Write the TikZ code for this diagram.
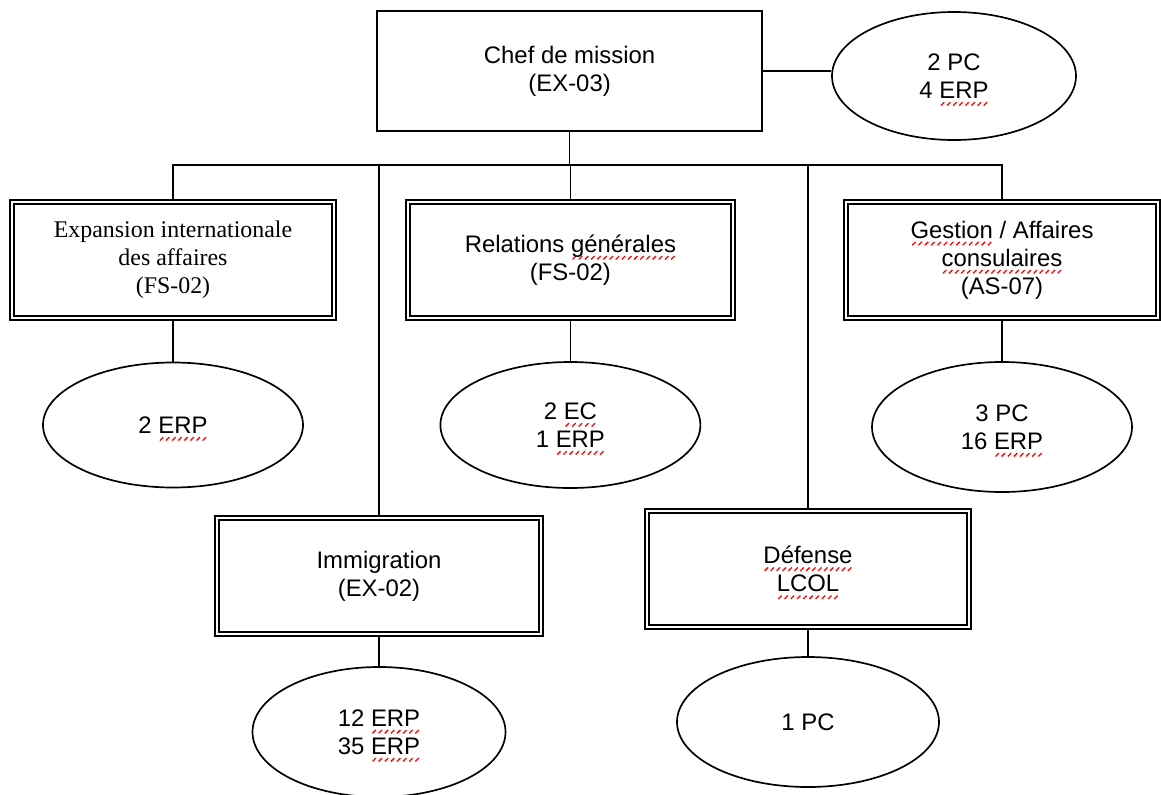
\documentclass[tikz,border=0pt]{standalone}
\usepackage{fontspec}
\setmainfont{Liberation Sans}
\newfontfamily\serifbox{Liberation Serif}
\usetikzlibrary{positioning,shapes.geometric}

% red wavy spell-check mark under a word
\newsavebox\spellbox
\newcommand\spell[1]{\sbox\spellbox{#1}\leavevmode\rlap{\smash{\raisebox{-4.8pt}{\color{red}\hbox to \wd\spellbox{\xleaders\hbox to 4.2pt{\hss\rotatebox{-45}{\rule{0.9pt}{3.4pt}}\hss}\hfill}}}}\usebox\spellbox}

\begin{document}
\begin{tikzpicture}[
    box/.style={draw, double, double distance=1.4pt, line width=1.2pt, minimum height=2.9cm, align=center, font=\fontsize{17}{20}\selectfont},
    staff/.style={draw, ellipse, line width=1.2pt, inner sep=0pt, align=center, font=\fontsize{17}{20}\selectfont},
    link/.style={line width=1.2pt},
]
\path[use as bounding box, fill=white] (0,0) rectangle (29.025,-19.85);

% Row 1: Head of mission
\node[draw, line width=1.2pt, minimum width=9.625cm, minimum height=3cm, align=center, font=\fontsize{17}{20}\selectfont] (chef) at (14.24,-1.775) {Chef de mission\\(EX-03)};
\node[staff, minimum width=6.1cm, minimum height=3.2cm] (chefstaff) at (23.85,-1.9) {2 PC\\4 \spell{ERP}};

% Row 2: Three programs
\node[box, minimum width=8.05cm, font=\serifbox\fontsize{17}{20}\selectfont] (expansion) at (4.325,-6.5) {Expansion internationale\\des affaires\\(FS-02)};
\node[box, minimum width=8.125cm] (relations) at (14.26,-6.5) {Relations \spell{générales}\\(FS-02)};
\node[box, minimum width=7.8cm] (gestion) at (25.05,-6.5) {\spell{Gestion} / Affaires\\\spell{consulaires}\\(AS-07)};

\node[staff, minimum width=6.5cm, minimum height=3.125cm] (expstaff) at (4.325,-10.625) {2 \spell{ERP}};
\node[staff, minimum width=6.5cm, minimum height=3.15cm] (relstaff) at (14.26,-10.625) {2 \spell{EC}\\1 \spell{ERP}};
\node[staff, minimum width=6.5cm, minimum height=3.25cm] (gesstaff) at (25.05,-10.675) {3 PC\\16 \spell{ERP}};

% Row 3: Immigration + Defence
\node[box, minimum width=8.1cm] (immigration) at (9.475,-14.4) {Immigration\\(EX-02)};
\node[box, minimum width=8.05cm] (defense) at (20.2,-14.225) {\spell{Défense}\\\spell{LCOL}};

\node[staff, minimum width=6.325cm, minimum height=3.25cm] (immstaff) at (9.475,-18.3) {12 \spell{ERP}\\35 \spell{ERP}};
\node[staff, minimum width=6.55cm, minimum height=3.25cm] (defstaff) at (20.2,-18.05) {1 PC};

% Links
\coordinate (bus) at (0,-4.125);
\draw[link] (chef.east) -- (chef.east -| chefstaff.west);
\draw[link] (chef.south) -- (chef.south |- bus);
\draw[link] (expansion.north) |- (gestion.north |- bus) -- (gestion.north);
\foreach \unit in {immigration, relations, defense}
    \draw[link] (\unit.north |- bus) -- (\unit.north);
\foreach \unit/\crew in {expansion/expstaff, relations/relstaff, gestion/gesstaff, immigration/immstaff, defense/defstaff}
    \draw[link] (\unit) -- (\crew);

\end{tikzpicture}
\end{document}
